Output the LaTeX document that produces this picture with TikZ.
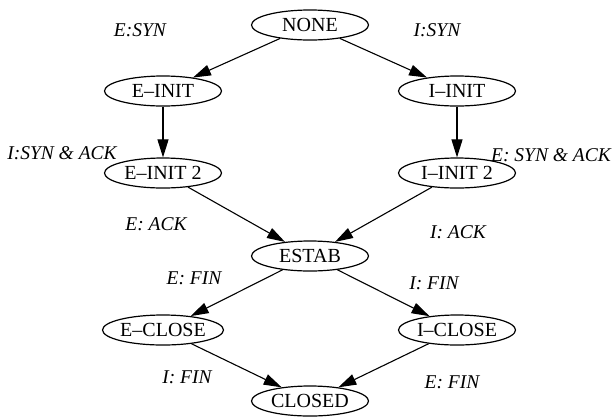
\documentclass[tikz,border=0pt]{standalone}
\usepackage{fontspec}
\setmainfont{Liberation Serif}
\usetikzlibrary{shapes.geometric,arrows.meta}
\begin{document}
\begin{tikzpicture}[x=1pt,y=-1pt,
  state/.style={ellipse,draw,line width=1.2pt,inner sep=0pt,
    minimum width=117pt,minimum height=30pt,
    font=\fontsize{20}{23}\selectfont},
  edgelabel/.style={font=\fontsize{19.5}{22}\selectfont\itshape,inner sep=0pt},
  trans/.style={draw,line width=1.1pt,-{Triangle[length=18pt,width=11pt]}}]
\useasboundingbox (0,0) rectangle (612,416);
% states
\node[state] (none)   at (310,25)  {NONE};
\node[state] (einit)  at (163,91)  {E–INIT};
\node[state] (iinit)  at (457,91)  {I–INIT};
\node[state] (einit2) at (163,173) {E–INIT 2};
\node[state] (iinit2) at (457,173) {I–INIT 2};
\node[state] (estab)  at (310,256) {ESTAB};
\node[state] (eclose) at (163,330) {E–CLOSE};
\node[state] (iclose) at (457,330) {I–CLOSE};
\node[state] (closed) at (310,401) {CLOSED};
% transitions
\draw[trans] (none) -- (einit);
\draw[trans] (none) -- (iinit);
\draw[trans] (einit) -- (einit2);
\draw[trans] (iinit) -- (iinit2);
\draw[trans] (einit2) -- (estab);
\draw[trans] (iinit2) -- (estab);
\draw[trans] (estab) -- (eclose);
\draw[trans] (estab) -- (iclose);
\draw[trans] (eclose) -- (closed);
\draw[trans] (iclose) -- (closed);
% transition labels
\node[edgelabel] (l1)  at (140,30)  {E:SYN};
\node[edgelabel] (l2)  at (437,30)  {I:SYN};
\node[edgelabel] (l3)  at (62,153)  {I:SYN \& ACK};
\node[edgelabel] (l4)  at (551,155) {E: SYN \& ACK};
\node[edgelabel] (l5)  at (156,224) {E: ACK};
\node[edgelabel] (l6)  at (458,232) {I: ACK};
\node[edgelabel] (l7)  at (194,278) {E: FIN};
\node[edgelabel] (l8)  at (434,283) {I: FIN};
\node[edgelabel] (l9)  at (187,377) {I: FIN};
\node[edgelabel] (l10) at (452,382) {E: FIN};
\end{tikzpicture}
\end{document}
